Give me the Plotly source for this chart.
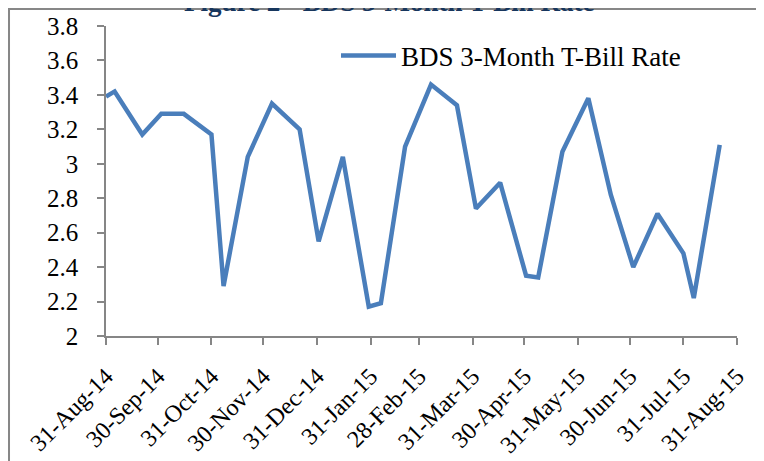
import plotly.graph_objects as go

dates = ["2014-08-31", "2014-09-05", "2014-09-21", "2014-10-02", "2014-10-15",
         "2014-10-31", "2014-11-07", "2014-11-21", "2014-12-05", "2014-12-21",
         "2015-01-01", "2015-01-15", "2015-01-30", "2015-02-06", "2015-02-20",
         "2015-03-07", "2015-03-22", "2015-04-02", "2015-04-16", "2015-05-01",
         "2015-05-08", "2015-05-22", "2015-06-06", "2015-06-19", "2015-07-02",
         "2015-07-16", "2015-07-31", "2015-08-06", "2015-08-21"]
rates = [3.39, 3.42, 3.17, 3.29, 3.29, 3.17, 2.29, 3.04, 3.35, 3.20,
         2.55, 3.04, 2.17, 2.19, 3.10, 3.46, 3.34, 2.74, 2.89, 2.35,
         2.34, 3.07, 3.38, 2.82, 2.40, 2.71, 2.48, 2.22, 3.11]

x_tick_vals = ["2014-08-31", "2014-09-30", "2014-10-31", "2014-11-30", "2014-12-31",
               "2015-01-31", "2015-02-28", "2015-03-31", "2015-04-30", "2015-05-31",
               "2015-06-30", "2015-07-31", "2015-08-31"]
x_tick_text = ["31-Aug-14", "30-Sep-14", "31-Oct-14", "30-Nov-14", "31-Dec-14",
               "31-Jan-15", "28-Feb-15", "31-Mar-15", "30-Apr-15", "31-May-15",
               "30-Jun-15", "31-Jul-15", "31-Aug-15"]
y_tick_vals = [2.0, 2.2, 2.4, 2.6, 2.8, 3.0, 3.2, 3.4, 3.6, 3.8]
y_tick_text = ["2", "2.2", "2.4", "2.6", "2.8", "3", "3.2", "3.4", "3.6", "3.8"]

series_name = "BDS 3-Month T-Bill Rate"
title_text = "Figure 2 - BDS 3-Month T-Bill Rate"

SERIF = "Liberation Serif"

fig = go.Figure()
fig.add_trace(go.Scatter(x=dates, y=rates, mode="lines", name=series_name,
                         line=dict(color="#4A7EBB", width=4.5)))

axis_color = "#868686"
# page body has an 8px margin, so the figure is sized to fit inside the window
fig.update_layout(
    width=756, height=453,
    margin=dict(l=98, r=27, t=18, b=125, autoexpand=False),
    paper_bgcolor="white", plot_bgcolor="white",
    font=dict(family=SERIF, size=25, color="black"),
    showlegend=True,
    legend=dict(x=0.3645, y=0.9035, xanchor="left", yanchor="middle",
                font=dict(family=SERIF, size=27, color="black"),
                bgcolor="rgba(0,0,0,0)", itemwidth=55),
    xaxis=dict(type="date", range=["2014-08-31", "2015-08-31"],
               tickmode="array", tickvals=x_tick_vals, ticktext=x_tick_text,
               tickangle=-45, showgrid=False, zeroline=False, automargin=False,
               tickfont=dict(family=SERIF, size=24, color="black"),
               showline=True, linecolor=axis_color, linewidth=1.5,
               ticks="outside", ticklen=7, tickcolor=axis_color, tickwidth=1.5,
               ticklabelstandoff=8),
    yaxis=dict(range=[2, 3.8], tickmode="array", tickvals=y_tick_vals, ticktext=y_tick_text,
               showgrid=False, zeroline=False, automargin=False,
               tickfont=dict(family=SERIF, size=25, color="black"),
               showline=True, linecolor=axis_color, linewidth=1.5,
               ticks="outside", ticklen=7, tickcolor=axis_color, tickwidth=1.5,
               ticklabelstandoff=14),
)

# chart border (frame of the original chart area)
fig.add_shape(type="rect", xref="paper", yref="paper",
              x0=-0.1537, x1=1.08, y0=-0.45, y1=1.0548,
              line=dict(color="#878787", width=2), layer="below")

# title, mostly cut off at top of the image
fig.add_annotation(text="<b>" + title_text + "</b>", xref="paper", yref="paper",
                   x=0.4485, y=1.023, xanchor="center", yanchor="bottom",
                   showarrow=False, font=dict(family=SERIF, size=27, color="#17365D"))

fig.write_html("out.html")
